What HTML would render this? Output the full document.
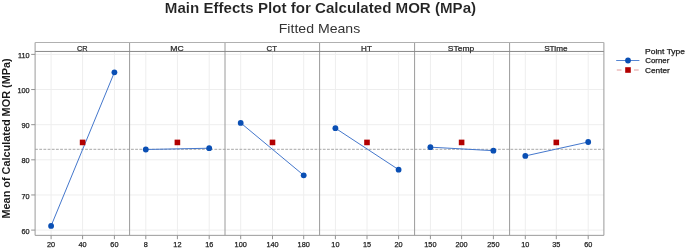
<!DOCTYPE html><html><head><meta charset="utf-8"><style>html,body{margin:0;padding:0;background:#fff;overflow:hidden}svg{display:block;will-change:transform}text{font-family:"Liberation Sans",sans-serif}</style></head><body>
<svg width="685" height="251" viewBox="0 0 685 251">
<rect width="685" height="251" fill="#fff"/>
<text x="164.81" y="13.4" font-size="15.2" font-weight="bold" fill="#222" stroke="#fff" stroke-width="0.1" textLength="311.30" lengthAdjust="spacingAndGlyphs">Main Effects Plot for Calculated MOR (MPa)</text>
<text x="278.75" y="33.0" font-size="13.3" font-weight="normal" fill="#333" textLength="81.48" lengthAdjust="spacingAndGlyphs">Fitted Means</text>
<text transform="translate(10.2,218.48) rotate(-90)" x="0" y="0" font-size="11.8" font-weight="bold" fill="#1a1a1a" textLength="160.10" lengthAdjust="spacingAndGlyphs">Mean of Calculated MOR (MPa)</text>
<path d="M35.1 230.10H603.9M35.1 194.96H603.9M35.1 159.82H603.9M35.1 124.68H603.9M35.1 89.54H603.9M35.1 54.40H603.9M51.1 51.45V235.35M82.6 51.45V235.35M114.4 51.45V235.35M145.8 51.45V235.35M177.4 51.45V235.35M209.2 51.45V235.35M240.7 51.45V235.35M272.5 51.45V235.35M303.7 51.45V235.35M335.4 51.45V235.35M367.0 51.45V235.35M398.6 51.45V235.35M430.4 51.45V235.35M461.6 51.45V235.35M493.4 51.45V235.35M525.3 51.45V235.35M556.3 51.45V235.35M588.2 51.45V235.35" stroke="#eeeeee" stroke-width="1" fill="none"/>
<path d="M35.1 149.3H603.9" stroke="#a8a8a8" stroke-width="1" stroke-dasharray="2.8 1.37" fill="none"/>
<path d="M51.1 225.88L114.4 72.32" stroke="#4477cc" stroke-width="1" fill="none"/>
<path d="M145.8 149.49L209.2 148.22" stroke="#4477cc" stroke-width="1" fill="none"/>
<path d="M240.7 122.92L303.7 175.28" stroke="#4477cc" stroke-width="1" fill="none"/>
<path d="M335.4 128.19L398.6 169.66" stroke="#4477cc" stroke-width="1" fill="none"/>
<path d="M430.4 147.17L493.4 150.68" stroke="#4477cc" stroke-width="1" fill="none"/>
<path d="M525.3 155.95L588.2 142.00" stroke="#4477cc" stroke-width="1" fill="none"/>
<rect x="79.80" y="139.63" width="5.6" height="5.6" fill="#b20000"/>
<rect x="174.60" y="139.63" width="5.6" height="5.6" fill="#b20000"/>
<rect x="269.70" y="139.63" width="5.6" height="5.6" fill="#b20000"/>
<rect x="364.20" y="139.63" width="5.6" height="5.6" fill="#b20000"/>
<rect x="458.80" y="139.63" width="5.6" height="5.6" fill="#b20000"/>
<rect x="553.50" y="139.63" width="5.6" height="5.6" fill="#b20000"/>
<circle cx="51.1" cy="225.88" r="2.9" fill="#0a4fb4"/>
<circle cx="114.4" cy="72.32" r="2.9" fill="#0a4fb4"/>
<circle cx="145.8" cy="149.49" r="2.9" fill="#0a4fb4"/>
<circle cx="209.2" cy="148.22" r="2.9" fill="#0a4fb4"/>
<circle cx="240.7" cy="122.92" r="2.9" fill="#0a4fb4"/>
<circle cx="303.7" cy="175.28" r="2.9" fill="#0a4fb4"/>
<circle cx="335.4" cy="128.19" r="2.9" fill="#0a4fb4"/>
<circle cx="398.6" cy="169.66" r="2.9" fill="#0a4fb4"/>
<circle cx="430.4" cy="147.17" r="2.9" fill="#0a4fb4"/>
<circle cx="493.4" cy="150.68" r="2.9" fill="#0a4fb4"/>
<circle cx="525.3" cy="155.95" r="2.9" fill="#0a4fb4"/>
<circle cx="588.2" cy="142.00" r="2.9" fill="#0a4fb4"/>
<path d="M35.1 235.35H603.9M35.1 42.5V235.35M129.6 42.5V235.35M225.0 42.5V235.35M319.6 42.5V235.35M414.6 42.5V235.35M509.6 42.5V235.35M603.9 42.5V235.35" stroke="#9a9a9a" stroke-width="1" fill="none"/>
<path d="M35.1 42.5H603.9" stroke="#b0b0b0" stroke-width="1" fill="none"/>
<path d="M35.1 51.45H603.9" stroke="#888888" stroke-width="1" fill="none"/>
<path d="M31.2 230.10H35.1M31.2 194.96H35.1M31.2 159.82H35.1M31.2 124.68H35.1M31.2 89.54H35.1M31.2 54.40H35.1M51.1 235.35V239.2M82.6 235.35V239.2M114.4 235.35V239.2M145.8 235.35V239.2M177.4 235.35V239.2M209.2 235.35V239.2M240.7 235.35V239.2M272.5 235.35V239.2M303.7 235.35V239.2M335.4 235.35V239.2M367.0 235.35V239.2M398.6 235.35V239.2M430.4 235.35V239.2M461.6 235.35V239.2M493.4 235.35V239.2M525.3 235.35V239.2M556.3 235.35V239.2M588.2 235.35V239.2" stroke="#929292" stroke-width="1" fill="none"/>
<text x="29.7" y="233.70" text-anchor="end" font-size="7.3" fill="#1e1e1e" stroke="#1e1e1e" stroke-width="0.25">60</text>
<text x="29.7" y="198.56" text-anchor="end" font-size="7.3" fill="#1e1e1e" stroke="#1e1e1e" stroke-width="0.25">70</text>
<text x="29.7" y="163.42" text-anchor="end" font-size="7.3" fill="#1e1e1e" stroke="#1e1e1e" stroke-width="0.25">80</text>
<text x="29.7" y="128.28" text-anchor="end" font-size="7.3" fill="#1e1e1e" stroke="#1e1e1e" stroke-width="0.25">90</text>
<text x="29.7" y="93.14" text-anchor="end" font-size="7.3" fill="#1e1e1e" stroke="#1e1e1e" stroke-width="0.25">100</text>
<text x="29.7" y="58.00" text-anchor="end" font-size="7.3" fill="#1e1e1e" stroke="#1e1e1e" stroke-width="0.25">110</text>
<text x="51.1" y="247.2" text-anchor="middle" font-size="7.3" fill="#1e1e1e" stroke="#1e1e1e" stroke-width="0.25">20</text>
<text x="82.6" y="247.2" text-anchor="middle" font-size="7.3" fill="#1e1e1e" stroke="#1e1e1e" stroke-width="0.25">40</text>
<text x="114.4" y="247.2" text-anchor="middle" font-size="7.3" fill="#1e1e1e" stroke="#1e1e1e" stroke-width="0.25">60</text>
<text x="145.8" y="247.2" text-anchor="middle" font-size="7.3" fill="#1e1e1e" stroke="#1e1e1e" stroke-width="0.25">8</text>
<text x="177.4" y="247.2" text-anchor="middle" font-size="7.3" fill="#1e1e1e" stroke="#1e1e1e" stroke-width="0.25">12</text>
<text x="209.2" y="247.2" text-anchor="middle" font-size="7.3" fill="#1e1e1e" stroke="#1e1e1e" stroke-width="0.25">16</text>
<text x="240.7" y="247.2" text-anchor="middle" font-size="7.3" fill="#1e1e1e" stroke="#1e1e1e" stroke-width="0.25">100</text>
<text x="272.5" y="247.2" text-anchor="middle" font-size="7.3" fill="#1e1e1e" stroke="#1e1e1e" stroke-width="0.25">140</text>
<text x="303.7" y="247.2" text-anchor="middle" font-size="7.3" fill="#1e1e1e" stroke="#1e1e1e" stroke-width="0.25">180</text>
<text x="335.4" y="247.2" text-anchor="middle" font-size="7.3" fill="#1e1e1e" stroke="#1e1e1e" stroke-width="0.25">10</text>
<text x="367.0" y="247.2" text-anchor="middle" font-size="7.3" fill="#1e1e1e" stroke="#1e1e1e" stroke-width="0.25">15</text>
<text x="398.6" y="247.2" text-anchor="middle" font-size="7.3" fill="#1e1e1e" stroke="#1e1e1e" stroke-width="0.25">20</text>
<text x="430.4" y="247.2" text-anchor="middle" font-size="7.3" fill="#1e1e1e" stroke="#1e1e1e" stroke-width="0.25">150</text>
<text x="461.6" y="247.2" text-anchor="middle" font-size="7.3" fill="#1e1e1e" stroke="#1e1e1e" stroke-width="0.25">200</text>
<text x="493.4" y="247.2" text-anchor="middle" font-size="7.3" fill="#1e1e1e" stroke="#1e1e1e" stroke-width="0.25">250</text>
<text x="525.3" y="247.2" text-anchor="middle" font-size="7.3" fill="#1e1e1e" stroke="#1e1e1e" stroke-width="0.25">10</text>
<text x="556.3" y="247.2" text-anchor="middle" font-size="7.3" fill="#1e1e1e" stroke="#1e1e1e" stroke-width="0.25">35</text>
<text x="588.2" y="247.2" text-anchor="middle" font-size="7.3" fill="#1e1e1e" stroke="#1e1e1e" stroke-width="0.25">60</text>
<text x="76.93" y="50.9" font-size="7.9" font-weight="normal" fill="#2a2a2a" stroke="#2a2a2a" stroke-width="0.25" textLength="10.66" lengthAdjust="spacingAndGlyphs">CR</text>
<text x="170.27" y="50.9" font-size="7.9" font-weight="normal" fill="#2a2a2a" stroke="#2a2a2a" stroke-width="0.25" textLength="13.47" lengthAdjust="spacingAndGlyphs">MC</text>
<text x="266.60" y="50.9" font-size="7.9" font-weight="normal" fill="#2a2a2a" stroke="#2a2a2a" stroke-width="0.25" textLength="10.46" lengthAdjust="spacingAndGlyphs">CT</text>
<text x="361.13" y="50.9" font-size="7.9" font-weight="normal" fill="#2a2a2a" stroke="#2a2a2a" stroke-width="0.25" textLength="10.73" lengthAdjust="spacingAndGlyphs">HT</text>
<text x="447.86" y="50.9" font-size="7.9" font-weight="normal" fill="#2a2a2a" stroke="#2a2a2a" stroke-width="0.25" textLength="26.45" lengthAdjust="spacingAndGlyphs">STemp</text>
<text x="544.17" y="50.9" font-size="7.9" font-weight="normal" fill="#2a2a2a" stroke="#2a2a2a" stroke-width="0.25" textLength="23.39" lengthAdjust="spacingAndGlyphs">STime</text>
<text x="645.13" y="53.5" font-size="7.3" font-weight="normal" fill="#1e1e1e" stroke="#1e1e1e" stroke-width="0.25" textLength="39.91" lengthAdjust="spacingAndGlyphs">Point Type</text>
<path d="M616.2 60.5H639.4" stroke="#5585d2" stroke-width="1"/>
<circle cx="628" cy="60.5" r="2.9" fill="#0a4fb4"/>
<text x="645.16" y="63.2" font-size="7.4" font-weight="normal" fill="#1e1e1e" stroke="#1e1e1e" stroke-width="0.25" textLength="24.24" lengthAdjust="spacingAndGlyphs">Corner</text>
<path d="M616.8 70H621.5M634 70H638.7" stroke="#e39c9c" stroke-width="1"/>
<rect x="625.2" y="67.2" width="5.6" height="5.6" fill="#b20000"/>
<text x="644.94" y="72.7" font-size="7.3" font-weight="normal" fill="#1e1e1e" stroke="#1e1e1e" stroke-width="0.25" textLength="24.87" lengthAdjust="spacingAndGlyphs">Center</text>
</svg></body></html>
